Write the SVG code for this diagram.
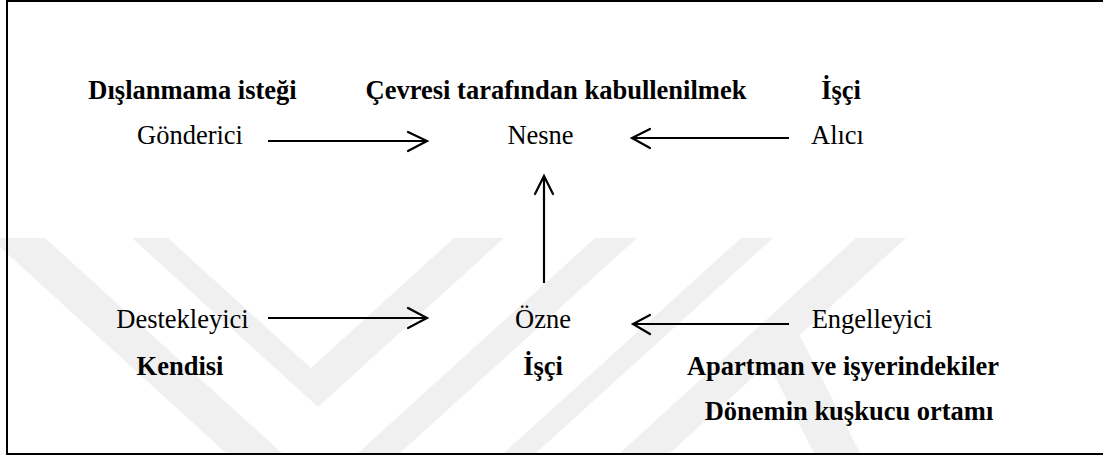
<svg xmlns="http://www.w3.org/2000/svg" width="1103" height="456" viewBox="0 0 1103 456">
<style>
  .wm { fill: #f0f0f0; }
  .lbl { font-size: 26.5px; fill: #000; text-anchor: middle; }
  .b { font-weight: bold; }
  .con { stroke: #000; stroke-width: 2.2; fill: none; }
  .head { stroke: #000; stroke-width: 2.2; fill: none; stroke-linecap: round; stroke-linejoin: miter; }
</style>
<rect x="0" y="0" width="1103" height="456" fill="#fff"/>
<g id="watermark">
  <polygon class="wm" points="-10,238 45,238 282,453 226,453"/>
  <polygon class="wm" points="132,238 168,238 311,368 454,238 504,238 318,407"/>
  <polygon class="wm" points="595,238 637,238 400,453 358,453"/>
  <polygon class="wm" points="741,238 773,238 536,453 504,453"/>
  <polygon class="wm" points="856,238 906,238 670,453 620,453"/>
  <polygon class="wm" points="752,332 798,332 860,453 814,453"/>
</g>
<rect id="frame" x="7" y="1" width="1110" height="453" fill="none" stroke="#000" stroke-width="2"/>
<g id="connectors">
  <line class="con" x1="268" y1="141" x2="426" y2="141"/>
  <polyline class="head" points="408,132 427,141 408,151"/>
  <line class="con" x1="789" y1="138" x2="633" y2="138"/>
  <polyline class="head" points="650,129 632,138 650,148"/>
  <line class="con" x1="544" y1="283" x2="544" y2="177"/>
  <polyline class="head" points="535,194 544,176 553,194"/>
  <line class="con" x1="268" y1="318" x2="426" y2="318"/>
  <polyline class="head" points="408,308 427,318 408,328"/>
  <line class="con" x1="789" y1="324" x2="634" y2="324"/>
  <polyline class="head" points="650,315 633,324 650,334"/>
</g>
<g font-family="Liberation Serif, Times New Roman, Times, serif">
<g id="gonderici">
  <text class="lbl b" x="192.5" y="99">Dışlanmama isteği</text>
  <text class="lbl" x="190" y="144">Gönderici</text>
</g>
<g id="nesne">
  <text class="lbl b" x="556" y="99">Çevresi tarafından kabullenilmek</text>
  <text class="lbl" x="540.5" y="144">Nesne</text>
</g>
<g id="alici">
  <text class="lbl b" x="841" y="99">İşçi</text>
  <text class="lbl" x="837.5" y="144">Alıcı</text>
</g>
<g id="destekleyici">
  <text class="lbl" x="182.5" y="328">Destekleyici</text>
  <text class="lbl b" x="180" y="375">Kendisi</text>
</g>
<g id="ozne">
  <text class="lbl" x="543" y="328">Özne</text>
  <text class="lbl b" x="543" y="375">İşçi</text>
</g>
<g id="engelleyici">
  <text class="lbl" x="872" y="328">Engelleyici</text>
  <text class="lbl b" x="843" y="375">Apartman ve işyerindekiler</text>
  <text class="lbl b" x="849" y="420">Dönemin kuşkucu ortamı</text>
</g>
</g>
</svg>
